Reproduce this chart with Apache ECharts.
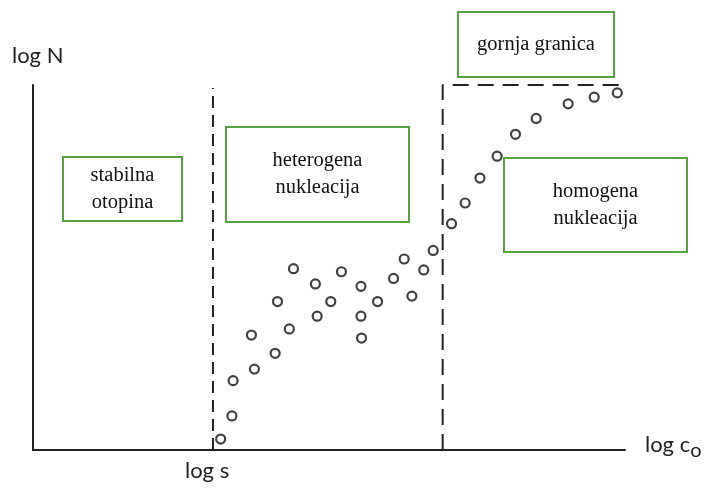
<!DOCTYPE html>
<html>
<head>
<meta charset="utf-8">
<script src="https://cdn.jsdelivr.net/npm/echarts@6/dist/echarts.min.js"></script>
<style>html,body{margin:0;padding:0;background:#fff}#c{width:707px;height:489px}</style>
</head>
<body>
<div id="c"></div>
<script>
// log c (arbitrary units) and log N (arbitrary units)
const pointX = [3.17,3.36,3.38,3.69,3.74,4.09,4.13,4.33,4.40,4.77,4.80,5.03,5.21,5.54,5.54,5.55,5.82,6.09,6.27,6.40,6.60,6.76,7.07,7.30,7.55,7.84,8.15,8.50,9.04,9.48,9.87];
const pointY = [0.18,0.56,1.14,1.89,1.33,1.59,2.44,1.99,2.98,2.73,2.20,2.44,2.93,2.69,2.20,1.84,2.44,2.82,3.14,2.53,2.96,3.28,3.72,4.06,4.47,4.83,5.19,5.45,5.69,5.80,5.87];
// boundary lines
const logS = 3.04, logSTop = 5.95;
const upperX = [6.92, 6.92, 10.08];
const upperY = [0, 6.0, 6.0];
const boxTexts = ['stabilna\notopina', 'heterogena\nnukleacija', 'gornja granica', 'homogena\nnukleacija'];

const pts = pointX.map((x,i)=>[x, pointY[i]]);
const upper = upperX.map((x,i)=>[x, upperY[i]]);

const chart = echarts.init(document.getElementById('c'), null, {renderer:'canvas'});
const green = '#56a341';
const serif = '"Liberation Serif","Times New Roman",serif';
const sans = 'Lato,"Open Sans",sans-serif';
const boxes = [
  [63,157,119,64],
  [226,127,183,95],
  [458,12,156,65],
  [504,158,183,94]
];
const graphic = [];
boxes.forEach((b,i)=>{
  graphic.push({type:'rect', shape:{x:b[0],y:b[1],width:b[2],height:b[3]}, style:{fill:'#fff',stroke:green,lineWidth:2}, z:10});
  graphic.push({type:'text', x:b[0]+b[2]/2, y:b[1]+b[3]/2, style:{text:boxTexts[i], font:'20.5px '+serif, fill:'#111', align:'center', verticalAlign:'middle', lineHeight:27}, z:11});
});
graphic.push({type:'text', left:12, top:45, style:{text:'log N', font:'22px '+sans, fill:'#222'}});
graphic.push({type:'text', left:185, top:460, style:{text:'log s', font:'22px '+sans, fill:'#222'}});
graphic.push({type:'text', left:645, top:434, style:{rich:{a:{font:'22px '+sans, fill:'#222'}, b:{font:'20px '+sans, fill:'#222', padding:[11,0,0,0]}}, text:'{a|log c}{b|o}'}});

chart.setOption({
  animation:false,
  backgroundColor:'#fff',
  grid:{left:33, top:85, width:592, height:365},
  xAxis:{type:'value', min:0, max:10, axisLine:{lineStyle:{color:'#222', width:2}}, axisTick:{show:false}, axisLabel:{show:false}, splitLine:{show:false}},
  yAxis:{type:'value', min:0, max:6, axisLine:{show:true, lineStyle:{color:'#222', width:2}}, axisTick:{show:false}, axisLabel:{show:false}, splitLine:{show:false}},
  graphic: graphic,
  series:[
    {type:'line', data:[[logS,0],[logS,logSTop]], symbol:'none', lineStyle:{color:'#222', width:2, type:[12,7]}, clip:false},
    {type:'line', data:upper, symbol:'none', lineStyle:{color:'#222', width:2, type:[16,9]}, clip:false},
    {type:'scatter', data:pts, symbol:'circle', symbolSize:9, itemStyle:{color:'#fff', borderColor:'#111', borderWidth:2.2}, z:5}
  ]
});
</script>
</body>
</html>
